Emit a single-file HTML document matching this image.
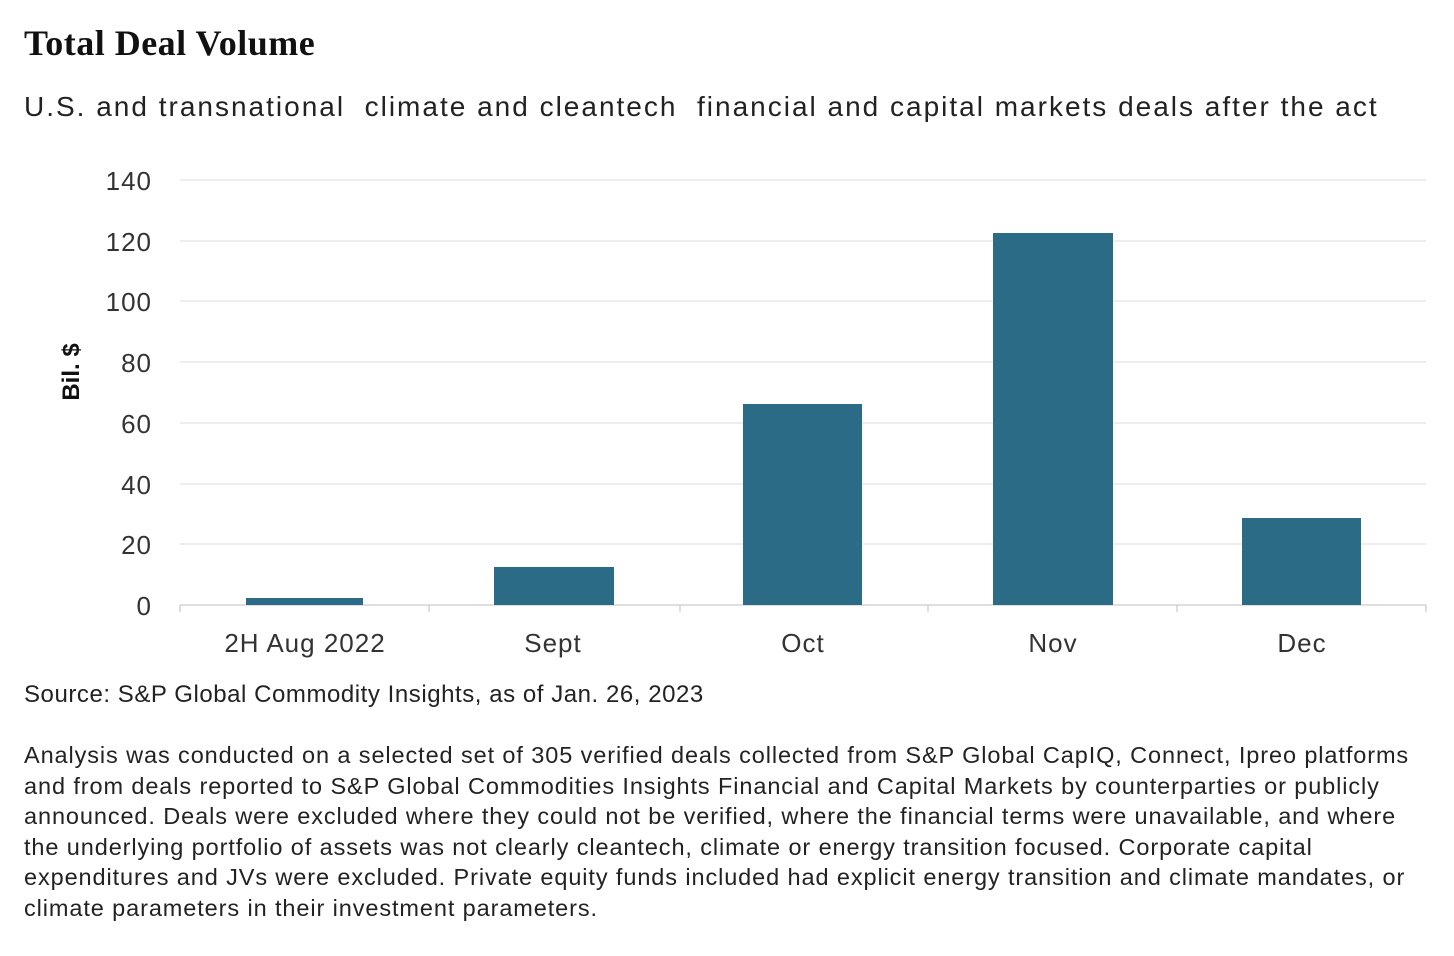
<!DOCTYPE html>
<html><head><meta charset="utf-8"><style>
body{margin:0;width:1454px;height:956px;background:#fff;font-family:"Liberation Sans",sans-serif;color:#222;position:relative;overflow:hidden}
.t{position:absolute;white-space:nowrap}
</style></head><body>
<div class="t" style="left:24px;top:22px;font-family:'Liberation Serif',serif;font-size:36px;font-weight:bold;letter-spacing:0.5px;color:#111">Total Deal Volume</div>
<div class="t" style="left:24px;top:91px;font-size:28px;letter-spacing:2px;color:#222">U.S. and transnational&nbsp; climate and cleantech&nbsp; financial and capital markets deals after the act</div>
<svg width="1454" height="956" style="position:absolute;left:0;top:0" font-family="Liberation Sans, sans-serif">
<g stroke="#e3e3e3" stroke-width="1.3">
<line x1="180" x2="1426" y1="180" y2="180"/><line x1="180" x2="1426" y1="241" y2="241"/>
<line x1="180" x2="1426" y1="301" y2="301"/><line x1="180" x2="1426" y1="362" y2="362"/>
<line x1="180" x2="1426" y1="423" y2="423"/><line x1="180" x2="1426" y1="484" y2="484"/>
<line x1="180" x2="1426" y1="544" y2="544"/>
</g>
<g stroke="#ccc" stroke-width="1.3">
<line x1="180" x2="1426" y1="605" y2="605"/>
<line x1="180" x2="180" y1="605" y2="612"/><line x1="429" x2="429" y1="605" y2="612"/>
<line x1="680" x2="680" y1="605" y2="612"/><line x1="928" x2="928" y1="605" y2="612"/>
<line x1="1177" x2="1177" y1="605" y2="612"/><line x1="1426" x2="1426" y1="605" y2="612"/>
</g>
<g fill="#2c6b85">
<rect x="246" y="598" width="117" height="7"/>
<rect x="494" y="567" width="120" height="38"/>
<rect x="743" y="404" width="119" height="201"/>
<rect x="993" y="233" width="120" height="372"/>
<rect x="1242" y="518" width="119" height="87"/>
</g>
<g font-size="26" fill="#333" text-anchor="end" letter-spacing="1">
<text x="152" y="190">140</text><text x="152" y="251">120</text><text x="152" y="311">100</text>
<text x="152" y="372">80</text><text x="152" y="433">60</text><text x="152" y="494">40</text>
<text x="152" y="554">20</text><text x="152" y="615">0</text>
</g>
<text transform="translate(79,372) rotate(-90)" text-anchor="middle" font-size="24" font-weight="bold" fill="#111">Bil. $</text>
<g font-size="26" fill="#333" text-anchor="middle" letter-spacing="1">
<text x="305" y="652">2H Aug 2022</text><text x="553" y="652">Sept</text>
<text x="803" y="652">Oct</text><text x="1053" y="652">Nov</text><text x="1302" y="652">Dec</text>
</g>
</svg>
<div class="t" style="left:24px;top:681px;font-size:24px;letter-spacing:0.55px;color:#222">Source: S&amp;P Global Commodity Insights, as of Jan. 26, 2023</div>
<div class="t" style="left:24px;top:740px;font-size:23.5px;line-height:30.5px;letter-spacing:0.9px;color:#222">Analysis was conducted on a selected set of 305 verified deals collected from S&amp;P Global CapIQ, Connect, Ipreo platforms<br>and from deals reported to S&amp;P Global Commodities Insights Financial and Capital Markets by counterparties or publicly<br>announced. Deals were excluded where they could not be verified, where the financial terms were unavailable, and where<br>the underlying portfolio of assets was not clearly cleantech, climate or energy transition focused. Corporate capital<br>expenditures and JVs were excluded. Private equity funds included had explicit energy transition and climate mandates, or<br>climate parameters in their investment parameters.</div>
</body></html>
